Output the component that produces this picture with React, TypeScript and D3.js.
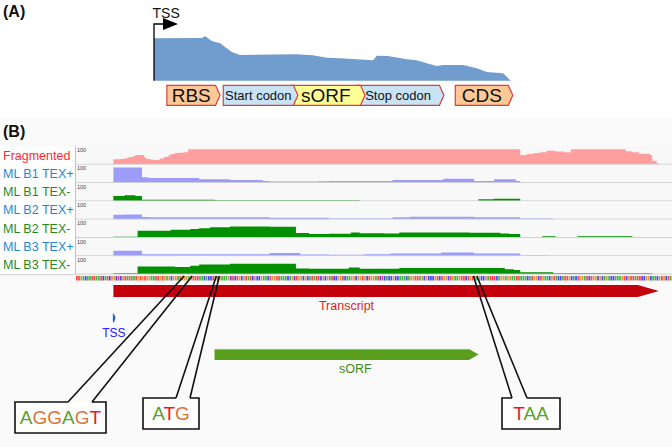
import React from 'react';
import * as d3 from 'd3';

const FONT = '"Liberation Sans", Arial, sans-serif';

// ---- Panel A: schematic coverage (relative position 0-100, coverage 0-100)
const schematicPos = [0, 13.4, 14.3, 16.2, 18.5, 21.8, 24.1, 40, 44.5, 48.4, 52.1, 61.4, 62.4, 65.5, 70.8, 73.6, 76.4, 79.2, 81, 86.6, 90.4, 93.2, 97.8, 98.8, 99.7, 100];
const schematicCov = [95, 95.5, 100, 89, 84, 64, 57.5, 59, 57, 51.5, 50, 46, 56, 55, 48, 46, 39, 33, 35, 35, 28, 19.5, 16.5, 9, 1.5, 0];

const schematicLabels = ['RBS', 'Start codon', 'sORF', 'Stop codon', 'CDS'];
const schematicStart = [3.6, 19.4, 38.4, 56.8, 84.4];
const schematicEnd = [18.5, 40.3, 59.1, 81.2, 100.5];

// ---- Panel B: coverage tracks, [nt position, coverage % of 100 scale]
const trackNames = ['Fragmented', 'ML B1 TEX+', 'ML B1 TEX-', 'ML B2 TEX+', 'ML B2 TEX-', 'ML B3 TEX+', 'ML B3 TEX-'];

const fragmented: [number, number][] = [
  [17, 33], [20, 36], [22, 40], [24, 48], [26, 56], [27, 62], [30, 62], [31, 45], [32, 35], [34, 31], [36, 29], [38, 38], [40, 49], [42, 60], [43, 69], [45, 75], [47, 77], [49, 80], [51, 100],
  [202, 62], [205, 69], [208, 75], [211, 80], [214, 91], [218, 86], [222, 80], [225, 100], [250, 87], [253, 80], [256, 71], [261, 62], [262, 24], [264, 7], [265, 0],
];
const b1Plus: [number, number][] = [
  [17, 100], [30, 36], [33, 31], [43, 30], [56, 23], [70, 18], [85, 11], [88, 7], [110, 9], [115, 11], [130, 10], [144, 18], [160, 18], [167, 25], [181, 11], [190, 22], [198, 22], [200, 11], [202, 0],
];
const b1Minus: [number, number][] = [
  [17, 33], [22, 38], [27, 33], [30, 7], [63, 5], [129, 0], [183, 11], [190, 14], [202, 0],
];
const b2Plus: [number, number][] = [
  [17, 29], [22, 31], [30, 15], [33, 13], [88, 9], [115, 5], [144, 13], [152, 17], [181, 13], [202, 5], [217, 0],
];
const b2Minus: [number, number][] = [
  [17, 5], [28, 45], [43, 51], [52, 56], [56, 62], [61, 69], [70, 73], [88, 71], [100, 30], [106, 24], [115, 25], [125, 33], [129, 29], [140, 27], [147, 33], [179, 31], [193, 27], [197, 23], [202, 3], [212, 8], [218, 3], [228, 8], [253, 3], [262, 0],
];
const b3Plus: [number, number][] = [
  [17, 33], [30, 11], [88, 18], [102, 9], [115, 7], [131, 11], [143, 15], [166, 22], [181, 15], [202, 3], [215, 0],
];
const b3Minus: [number, number][] = [
  [17, 5], [28, 51], [45, 47], [52, 55], [56, 64], [70, 69], [100, 37], [106, 35], [124, 44], [129, 35], [147, 40], [179, 40], [195, 33], [199, 27], [202, 12], [217, 6], [262, 0],
];
const trackData = [fragmented, b1Plus, b1Minus, b2Plus, b2Minus, b3Plus, b3Minus];

// ---- sequence shown in the reference strip (positions 0..270)
const SEQ =
  'TTGACAATTA' + 'ATCATCGGCT' + 'CGTATAATGT' + 'GTGGAATTGT' + 'GAGCGGAT' +
  'AGGAGT' + 'TTAACACCT' + 'ATG' +
  'AAAGCTCTGCGTATCGCCGAACTGGTTAAA' + 'CAGCTGGCGCATATTCGCGATCCGGTCAAG' +
  'GCGGTGCTGGATCTCACCGCCAAACAGGTT' + 'AGCGCCCGTCTGGCTGAAGTTCTG' +
  'TAA' +
  'GCCGATTTCA' + 'GGAGGAATTA' + 'AACATGGCTG' + 'AACGTACCAT' + 'TGCACTGGAT' +
  'CTGGCGCAGA' + 'CCAAAGTCGT' + 'TATTCCGGCA' + 'ACGTGCTA';

// annotated features (nt)
const tssPos = 17;
const transcript = [17, 265];
const sorf = [63, 183];
const featureLabelPos = [123, 127]; // Transcript, sORF label centres

const motifSeq = ['AGGAGT', 'ATG', 'TAA'];
const motifStart = [48, 63, 180];

const baseColor: Record<string, string> = { A: '#009600', C: '#0000ff', G: '#d17105', T: '#ff0000' };
const letterColor: Record<string, string> = { A: '#5aa02c', G: '#d8733c', T: '#f01818', C: '#2040e0' };

const trackFill = ['#ff9e9e', '#9c9cfa', '#009000', '#9c9cfa', '#009000', '#9c9cfa', '#009000'];
const labelColor = ['#ff2a2a', '#1e88d6', '#1f8a1f', '#1e88d6', '#1f8a1f', '#1e88d6', '#1f8a1f'];
const boxFill = ['#ffc896', '#c9e3f4', '#ffff96', '#c9e3f4', '#ffc896'];

// callout boxes (layout)
const callouts = [
  { x0: 15, x1: 106, y0: 402, y1: 433, b0: 68, b1: 92, half: 4 },
  { x0: 143, x1: 199, y0: 398, y1: 429, b0: 176, b1: 190, half: 1.5 },
  { x0: 502, x1: 560, y0: 398, y1: 429, b0: 512, b1: 527, half: 1.7 },
];

const W = 672;
const H = 447;

export default function App() {
  // panel A scales
  const xA = d3.scaleLinear().domain([0, 100]).range([154, 511]);
  const yA = d3.scaleLinear().domain([0, 100]).range([80.7, 36]);
  const schematic = schematicPos.map((p, i) => [p, schematicCov[i]] as [number, number]);
  const areaA = d3.area<[number, number]>()
    .x(d => xA(d[0]))
    .y0(yA(0))
    .y1(d => yA(d[1]));

  const boxTop = 85.3, boxBot = 105.3, tip = 4.5;
  const pent = (a: number, b: number) => {
    const x0 = xA(a), x1 = xA(b), m = (boxTop + boxBot) / 2;
    return `M${x0},${boxTop}L${x1 - tip},${boxTop}L${x1},${m}L${x1 - tip},${boxBot}L${x0},${boxBot}Z`;
  };
  const drawOrder = [3, 2, 1, 0, 4];

  // panel B scales
  const x = d3.scaleLinear().domain([0, 271]).range([76, 672]);
  const rowTop0 = 146.5, rowH = 18.3;
  const stripY = 276;

  const nt = x(1) - x(0);

  return (
    <svg width={W} height={H} style={{ position: 'absolute', left: 0, top: 0, fontFamily: FONT }}>
      <rect x={0} y={0} width={W} height={H} fill="#ffffff" />
      <rect x={0} y={118} width={W} height={H - 118} fill="#fafafa" />

      {/* ---------- Panel A ---------- */}
      <text x={3} y={17} fontSize={16} fontWeight="bold" fill="#111">(A)</text>
      <path d={areaA(schematic) || ''} fill="#709dcd" />
      <path d={`M${xA(0)},${yA(0)}V24H164`} fill="none" stroke="#000" strokeWidth={1.3} />
      <path d="M163,18L178,24L163,30Z" fill="#000" />
      <text x={152.5} y={17.5} fontSize={14} fill="#111">TSS</text>

      {drawOrder.map(i => {
        const big = i % 2 === 0;
        const cx = (xA(schematicStart[i]) + xA(schematicEnd[i]) - tip) / 2;
        return (
          <g key={schematicLabels[i]}>
            <path d={pent(schematicStart[i], schematicEnd[i])} fill={boxFill[i]} stroke="#e03c3c" strokeWidth={1.2} />
            <text x={cx} y={big ? 101.7 : 100} fontSize={big ? 19 : 13} textAnchor="middle" fill="#111">
              {schematicLabels[i]}
            </text>
          </g>
        );
      })}

      {/* ---------- Panel B ---------- */}
      <text x={3} y={137} fontSize={16} fontWeight="bold" fill="#111">(B)</text>

      <rect x={0} y={rowTop0} width={75.5} height={rowH * 7} fill="#ffffff" />
      <line x1={75.5} x2={75.5} y1={rowTop0} y2={rowTop0 + rowH * 7} stroke="#c4c4c4" />
      <line x1={0} x2={75.5} y1={rowTop0 + rowH * 7} y2={rowTop0 + rowH * 7} stroke="#d0d0d0" />

      {trackData.map((data, i) => {
        const top = rowTop0 + i * rowH;
        const bottom = top + rowH;
        const y = d3.scaleLinear().domain([0, 100]).range([bottom - 0.5, bottom - 15.5]);
        const area = d3.area<[number, number]>()
          .x(d => x(d[0]))
          .y0(y(0))
          .y1(d => y(d[1]))
          .curve(d3.curveStepAfter);
        return (
          <g key={trackNames[i]}>
            <rect x={76} y={top} width={W - 76} height={rowH} fill="#f8f8f8" />
            <path d={area(data) || ''} fill={trackFill[i]} />
            <line x1={76} x2={W} y1={bottom - 0.5} y2={bottom - 0.5} stroke="#cfcfcf" strokeWidth={1} />
            <text x={77} y={top + 5.5} fontSize={5.5} fill="#444">100</text>
            <text x={3} y={top + 13} fontSize={12.5} fill={labelColor[i]}>{trackNames[i]}</text>
          </g>
        );
      })}

      {/* sequence strip */}
      <g>
        {SEQ.split('').map((b, i) => (
          <rect key={i} x={x(i)} y={stripY} width={nt - 0.5} height={4.5} fill={baseColor[b]} fillOpacity={0.72} />
        ))}
      </g>

      {/* transcript */}
      <path
        d={`M${x(transcript[0])},285H${x(transcript[1]) - 21}L${x(transcript[1])},291L${x(transcript[1]) - 21},297H${x(transcript[0])}Z`}
        fill="#c4000c"
      />
      <text x={x(featureLabelPos[0])} y={310} fontSize={12.5} textAnchor="middle" fill="#e01e1e">Transcript</text>

      {/* TSS marker */}
      <path d={`M${x(tssPos) - 0.5},313Q${x(tssPos) + 4.5},318 ${x(tssPos) - 0.5},323Z`} fill="#2a5fc8" />
      <text x={x(tssPos) + 0.5} y={336.5} fontSize={12} textAnchor="middle" fill="#2020ff">TSS</text>

      {/* sORF */}
      <path
        d={`M${x(sorf[0])},349H${x(sorf[1]) - 9.5}L${x(sorf[1])},354.5L${x(sorf[1]) - 9.5},360H${x(sorf[0])}Z`}
        fill="#5a9e1e"
      />
      <line x1={x(sorf[0])} x2={x(sorf[1]) - 9.5} y1={349.3} y2={349.3} stroke="#b8cfa8" strokeWidth={0.8} />
      <text x={x(featureLabelPos[1])} y={373} fontSize={12.5} textAnchor="middle" fill="#3a8a20">sORF</text>

      {/* callouts */}
      {callouts.map((c, i) => {
        const centre = x(motifStart[i] + motifSeq[i].length / 2);
        const tipY = stripY;
        const cx = (c.x0 + c.x1) / 2;
        return (
          <g key={motifSeq[i]}>
            <path
              d={`M${c.b0},${c.y0}L${c.x0},${c.y0}L${c.x0},${c.y1}L${c.x1},${c.y1}L${c.x1},${c.y0}L${c.b1},${c.y0}`}
              fill="#ffffff"
              stroke="#111"
              strokeWidth={1.6}
            />
            <path
              d={`M${c.b0},${c.y0}L${centre - c.half},${tipY}M${c.b1},${c.y0}L${centre + c.half},${tipY}`}
              fill="none"
              stroke="#111"
              strokeWidth={1.6}
            />
            <text x={cx} y={c.y1 - 9} fontSize={19} textAnchor="middle">
              {motifSeq[i].split('').map((l, j) => (
                <tspan key={j} fill={letterColor[l]}>{l}</tspan>
              ))}
            </text>
          </g>
        );
      })}
    </svg>
  );
}
